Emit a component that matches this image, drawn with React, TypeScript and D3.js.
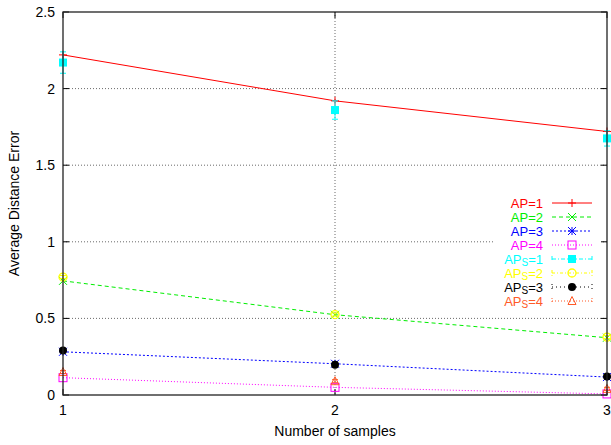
import React, { useEffect } from "react";
import * as d3 from "d3";

const xTicks = [1, 2, 3];
const yTicks = [0, 0.5, 1, 1.5, 2, 2.5];
const xValues = [1, 2, 3];

const ap1 = [2.22, 1.92, 1.72];
const ap2 = [0.745, 0.524, 0.374];
const ap3 = [0.282, 0.204, 0.117];
const ap4 = [0.113, 0.05, 0.007];

const aps1 = [2.17, 1.86, 1.675];
const aps1Err = [0.07, 0.06, 0.05];
const aps2 = [0.77, 0.525, 0.378];
const aps2Err = [0.01, 0.01, 0.01];
const aps3 = [0.29, 0.198, 0.12];
const aps3Err = [0.008, 0.008, 0.008];
const aps4 = [0.15, 0.09, 0.04];
const aps4Err = [0.01, 0.01, 0.01];

const W = 611;
const H = 445;
const L = 63, R = 607, T = 12, B = 395;
const FONT = "'Liberation Sans', Arial, Helvetica, sans-serif";

type Marker = "plus" | "cross" | "star" | "square" | "fsquare" | "circle" | "fcircle" | "triangle";

interface LineSeries { label: string; values: number[]; color: string; dash: string; marker: Marker; }
interface PointSeries { label: string; values: number[]; err: number[]; color: string; dash: string; marker: Marker; }

const lineSeries: LineSeries[] = [
  { label: "1", values: ap1, color: "#ff0000", dash: "", marker: "plus" },
  { label: "2", values: ap2, color: "#00ee00", dash: "4,3", marker: "cross" },
  { label: "3", values: ap3, color: "#0000ff", dash: "2,2", marker: "star" },
  { label: "4", values: ap4, color: "#ff00ff", dash: "1,2", marker: "square" },
];
const pointSeries: PointSeries[] = [
  { label: "1", values: aps1, err: aps1Err, color: "#00ffff", dash: "4,2,1,2", marker: "fsquare" },
  { label: "2", values: aps2, err: aps2Err, color: "#ffff00", dash: "3,2,1,2", marker: "circle" },
  { label: "3", values: aps3, err: aps3Err, color: "#000000", dash: "1,3", marker: "fcircle" },
  { label: "4", values: aps4, err: aps4Err, color: "#ff5a28", dash: "1,2", marker: "triangle" },
];

function MarkerShape({ type, x, y, color }: { type: Marker; x: number; y: number; color: string }) {
  const s = 4;
  switch (type) {
    case "plus":
      return <path d={`M${x - s},${y}H${x + s}M${x},${y - s}V${y + s}`} stroke={color} strokeWidth={1} fill="none" />;
    case "cross":
      return <path d={`M${x - s},${y - s}L${x + s},${y + s}M${x - s},${y + s}L${x + s},${y - s}`} stroke={color} strokeWidth={1} fill="none" />;
    case "star":
      return <path d={`M${x - s},${y}H${x + s}M${x},${y - s}V${y + s}M${x - s},${y - s}L${x + s},${y + s}M${x - s},${y + s}L${x + s},${y - s}`} stroke={color} strokeWidth={1} fill="none" />;
    case "square":
      return <rect x={x - s} y={y - s} width={2 * s} height={2 * s} stroke={color} strokeWidth={1} fill="none" />;
    case "fsquare":
      return <rect x={x - s} y={y - s} width={2 * s} height={2 * s} fill={color} />;
    case "circle":
      return <circle cx={x} cy={y} r={s} stroke={color} strokeWidth={1.3} fill="none" />;
    case "fcircle":
      return <circle cx={x} cy={y} r={s} fill={color} />;
    case "triangle":
      return <path d={`M${x},${y - s - 0.5}L${x + s},${y + s - 0.5}L${x - s},${y + s - 0.5}Z`} stroke={color} strokeWidth={1} fill="none" />;
  }
}

export default function App() {
  useEffect(() => {
    document.body.style.margin = "0";
  }, []);

  const x = d3.scaleLinear().domain([1, 3]).range([L, R]);
  const y = d3.scaleLinear().domain([0, 2.5]).range([B, T]);
  const line = d3.line<number>().x((_, i) => x(xValues[i])).y((d) => y(d));

  const keyTextX = 543;
  const keyLineX0 = 552;
  const keyLineX1 = 592;
  const keyY0 = 203;
  const keyDy = 14;
  const cap = 3;

  return (
    <svg width={W} height={H} style={{ position: "absolute", left: 0, top: 0, background: "#fff" }} fontFamily={FONT}>
      {/* grid */}
      {yTicks.filter((t) => t > 0 && t < 2.5).map((t) => (
        <line key={"gy" + t} x1={L} x2={R} y1={y(t)} y2={y(t)} stroke="#444" strokeWidth={0.8} strokeDasharray="1,2" />
      ))}
      {xTicks.filter((t) => t > 1 && t < 3).map((t) => (
        <line key={"gx" + t} x1={x(t)} x2={x(t)} y1={T} y2={B} stroke="#444" strokeWidth={0.8} strokeDasharray="1,2" />
      ))}
      {/* key blank area */}
      <rect x={493} y={195} width={108} height={114} fill="#fff" />

      {/* ticks */}
      {yTicks.map((t) => (
        <g key={"ty" + t}>
          <line x1={L} x2={L + 6} y1={y(t)} y2={y(t)} stroke="#000" />
          <line x1={R - 6} x2={R} y1={y(t)} y2={y(t)} stroke="#000" />
          <text x={L - 8} y={y(t)} dy="0.35em" textAnchor="end" fontSize={14} fill="#000">{d3.format("")(t)}</text>
        </g>
      ))}
      {xTicks.map((t) => (
        <g key={"tx" + t}>
          <line x1={x(t)} x2={x(t)} y1={B} y2={B - 6} stroke="#000" />
          <line x1={x(t)} x2={x(t)} y1={T} y2={T + 6} stroke="#000" />
          <text x={x(t)} y={B + 15} dy="0.35em" textAnchor="middle" fontSize={14} fill="#000">{t}</text>
        </g>
      ))}

      {/* line series */}
      {lineSeries.map((s) => (
        <g key={"l" + s.label}>
          <path d={line(s.values) || ""} stroke={s.color} strokeWidth={1} fill="none" strokeDasharray={s.dash} />
          {s.values.map((v, i) => (
            <MarkerShape key={i} type={s.marker} x={x(xValues[i])} y={y(v)} color={s.color} />
          ))}
        </g>
      ))}

      {/* point series with error bars */}
      {pointSeries.map((s) => (
        <g key={"p" + s.label}>
          {s.values.map((v, i) => {
            const cx = x(xValues[i]);
            const y1 = y(v + s.err[i]);
            const y0 = y(v - s.err[i]);
            return (
              <g key={i}>
                <path d={`M${cx},${y0}V${y1}M${cx - cap},${y0}H${cx + cap}M${cx - cap},${y1}H${cx + cap}`} stroke={s.color} strokeWidth={1} fill="none" />
                <MarkerShape type={s.marker} x={cx} y={y(v)} color={s.color} />
              </g>
            );
          })}
        </g>
      ))}

      {/* border */}
      <rect x={L} y={T} width={R - L} height={B - T} fill="none" stroke="#222" strokeWidth={1.3} />

      {/* legend */}
      {lineSeries.map((s, i) => {
        const ky = keyY0 + i * keyDy;
        return (
          <g key={"k" + s.label}>
            <text x={keyTextX} y={ky} dy="0.35em" textAnchor="end" fontSize={13} fill={s.color}>{`AP=${s.label}`}</text>
            <line x1={keyLineX0} x2={keyLineX1} y1={ky} y2={ky} stroke={s.color} strokeDasharray={s.dash} />
            <MarkerShape type={s.marker} x={(keyLineX0 + keyLineX1) / 2} y={ky} color={s.color} />
          </g>
        );
      })}
      {pointSeries.map((s, j) => {
        const ky = keyY0 + (j + 4) * keyDy;
        return (
          <g key={"kp" + s.label}>
            <text x={keyTextX} y={ky} dy="0.35em" textAnchor="end" fontSize={13} fill={s.color}>
              AP<tspan fontSize={10} dy={2}>S</tspan><tspan dy={-2}>{`=${s.label}`}</tspan>
            </text>
            <path d={`M${keyLineX0},${ky}H${keyLineX1}M${keyLineX0},${ky - cap}V${ky + cap}M${keyLineX1},${ky - cap}V${ky + cap}`} stroke={s.color} strokeDasharray={s.dash} fill="none" />
            <MarkerShape type={s.marker} x={(keyLineX0 + keyLineX1) / 2} y={ky} color={s.color} />
          </g>
        );
      })}

      {/* axis titles */}
      <text x={(L + R) / 2} y={431} dy="0.35em" textAnchor="middle" fontSize={14} fill="#000">Number of samples</text>
      <text transform={`translate(14,${(T + B) / 2}) rotate(-90)`} dy="0.35em" textAnchor="middle" fontSize={14} fill="#000">Average Distance Error</text>
    </svg>
  );
}
